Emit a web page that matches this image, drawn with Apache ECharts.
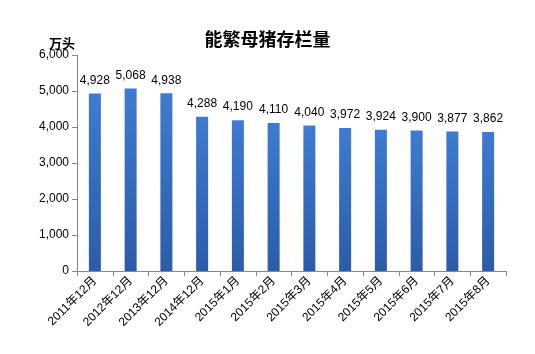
<!DOCTYPE html>
<html>
<head>
<meta charset="utf-8">
<script src="https://cdn.jsdelivr.net/npm/echarts@6/dist/echarts.min.js"></script>
<style>
html, body { margin: 0; padding: 0; background: #fff; }
#chart { width: 535px; height: 354px; }
</style>
</head>
<body>
<div id="chart"></div>
<script>
var months = ['2011年12月', '2012年12月', '2013年12月', '2014年12月', '2015年1月', '2015年2月',
    '2015年3月', '2015年4月', '2015年5月', '2015年6月', '2015年7月', '2015年8月'];
var sowStock = [4928, 5068, 4938, 4288, 4190, 4110, 4040, 3972, 3924, 3900, 3877, 3862];
var yTicks = [0, 1000, 2000, 3000, 4000, 5000, 6000];

var font = '"Liberation Sans", "Noto Sans CJK SC", sans-serif';
var cjk = '"Noto Sans CJK SC", sans-serif';

var chart = echarts.init(document.getElementById('chart'));
chart.setOption({
    animation: false,
    backgroundColor: '#fff',
    title: {
        text: '能繁母猪存栏量',
        left: 'center',
        top: 25,
        textStyle: { fontSize: 18, fontWeight: 'bold', color: '#000', fontFamily: cjk }
    },
    grid: { left: 77, right: 29, top: 55, bottom: 83 },
    xAxis: {
        type: 'category',
        data: months,
        axisLine: { lineStyle: { color: '#888' } },
        axisTick: { show: true, length: 5, lineStyle: { color: '#888' } },
        axisLabel: { rotate: 45, fontSize: 12, color: '#000', fontFamily: font, margin: 8 }
    },
    yAxis: {
        type: 'value',
        min: yTicks[0],
        max: yTicks[yTicks.length - 1],
        interval: 1000,
        name: '万头',
        nameLocation: 'end',
        nameGap: 2,
        nameTextStyle: { fontSize: 13, fontWeight: 'bold', color: '#000', align: 'right', padding: [0, 2, 0, 0], fontFamily: cjk },
        splitLine: { show: false },
        axisLine: { show: true, lineStyle: { color: '#888' } },
        axisTick: { show: true, length: 5, lineStyle: { color: '#888' } },
        axisLabel: {
            fontSize: 12, color: '#000', fontFamily: font, margin: 8,
            formatter: function(v) { return v.toLocaleString('en-US'); }
        }
    },
    series: [{
        type: 'bar',
        data: sowStock,
        barWidth: 12,
        itemStyle: {
            color: new echarts.graphic.LinearGradient(0, 0, 0, 1, [
                { offset: 0, color: '#3f7bd0' },
                { offset: 1, color: '#2b5ca8' }
            ])
        },
        label: {
            show: true,
            position: 'top',
            distance: 7,
            fontSize: 12,
            color: '#000',
            fontFamily: font,
            formatter: function(p) { return p.value.toLocaleString('en-US'); }
        }
    }]
});
</script>
</body>
</html>
